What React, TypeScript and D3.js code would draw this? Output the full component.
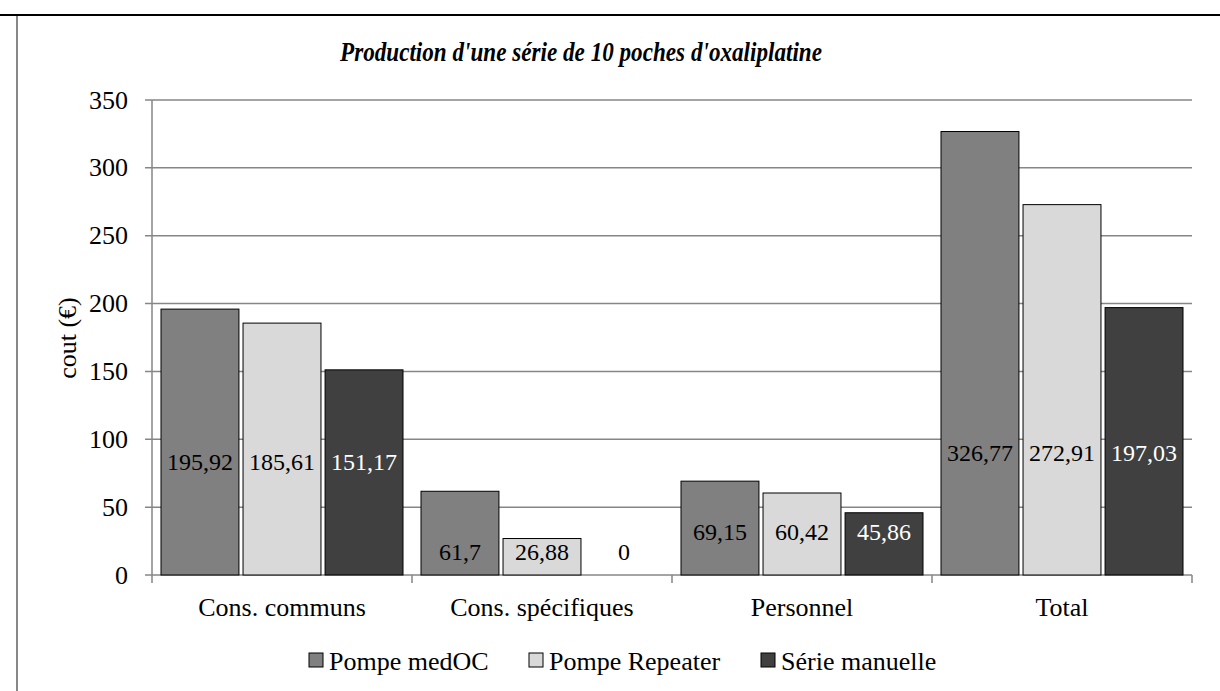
import React from "react";
import * as d3 from "d3";

const categories = ["Cons. communs", "Cons. spécifiques", "Personnel", "Total"];
const seriesNames = ["Pompe medOC", "Pompe Repeater", "Série manuelle"];
const medOC = [195.92, 61.7, 69.15, 326.77];
const repeater = [185.61, 26.88, 60.42, 272.91];
const manuelle = [151.17, 0, 45.86, 197.03];
const labelAt = [83.5, 17, 32.4, 90];
const yTicks = [0, 50, 100, 150, 200, 250, 300, 350];
const colors = ["#808080", "#d9d9d9", "#404040"];

const fmt = (v: number) => String(v).replace(".", ",");

export default function App() {
  const W = 1220, H = 691;
  const left = 152, right = 1192, top = 100, bottom = 575;
  const series = [medOC, repeater, manuelle];
  const y = d3.scaleLinear().domain([0, 350]).range([bottom, top]);
  const x0 = d3.scaleBand<string>().domain(categories).range([left, right]).paddingInner(0).paddingOuter(0);
  const x1 = d3.scaleBand<number>().domain([0, 1, 2]).range([9, x0.bandwidth() - 9]).paddingInner(0.05);
  const font = "Liberation Serif, Times New Roman, serif";
  const grid = "#868686";
  const legendX = [309, 529, 761];
  const ts = { fontFamily: font };

  return (
    <svg width={W} height={H} style={{ position: "absolute", left: 0, top: 0, fontFamily: font }}>
      <rect x={0} y={0} width={W} height={H} fill="#fff" />
      <line x1={0} x2={W} y1={15} y2={15} stroke="#000" strokeWidth={2} />
      <line x1={17} x2={17} y1={16} y2={H} stroke="#888" strokeWidth={2} />
      <text x={340} y={61} style={ts} fontSize={27} fontWeight="bold" fontStyle="italic"
        textLength={482} lengthAdjust="spacingAndGlyphs">
        Production d'une série de 10 poches d'oxaliplatine
      </text>
      {yTicks.map((t) => (
        <g key={t}>
          <line x1={left - 7} x2={right} y1={y(t)} y2={y(t)} stroke={grid} strokeWidth={1.5} />
          <text x={128} y={y(t) + 8.5} style={ts} textAnchor="end" fontSize={26}>{t}</text>
        </g>
      ))}
      <line x1={left} x2={left} y1={top} y2={bottom} stroke={grid} strokeWidth={1.5} />
      {categories.map((c, i) => (
        <line key={"t" + i} x1={x0(c)!} x2={x0(c)!} y1={bottom} y2={bottom + 8} stroke={grid} strokeWidth={1.5} />
      ))}
      <line x1={right} x2={right} y1={bottom} y2={bottom + 8} stroke={grid} strokeWidth={1.5} />
      {categories.map((c, ci) =>
        series.map((s, si) => {
          const bx = x0(c)! + x1(si)!;
          const bw = x1.bandwidth();
          const v = s[ci];
          return (
            <g key={c + si}>
              {v > 0 && (
                <rect x={bx} y={y(v)} width={bw} height={y(0) - y(v)} fill={colors[si]} stroke="#000" strokeWidth={1} />
              )}
              <text x={bx + bw / 2} y={y(labelAt[ci]) + 8.5} style={ts} textAnchor="middle" fontSize={24}
                fill={si === 2 && v > 0 ? "#fff" : "#000"}>{fmt(v)}</text>
            </g>
          );
        })
      )}
      {categories.map((c) => (
        <text key={"c" + c} x={x0(c)! + x0.bandwidth() / 2} y={616} style={ts} textAnchor="middle" fontSize={26}>{c}</text>
      ))}
      <text transform={`translate(76,338) rotate(-90)`} style={ts} textAnchor="middle" fontSize={26}>cout (€)</text>
      {seriesNames.map((n, i) => (
        <g key={n}>
          <rect x={legendX[i]} y={653} width={14} height={14} fill={colors[i]} stroke="#000" strokeWidth={1} />
          <text x={legendX[i] + 20} y={670} style={ts} fontSize={26}>{n}</text>
        </g>
      ))}
    </svg>
  );
}
